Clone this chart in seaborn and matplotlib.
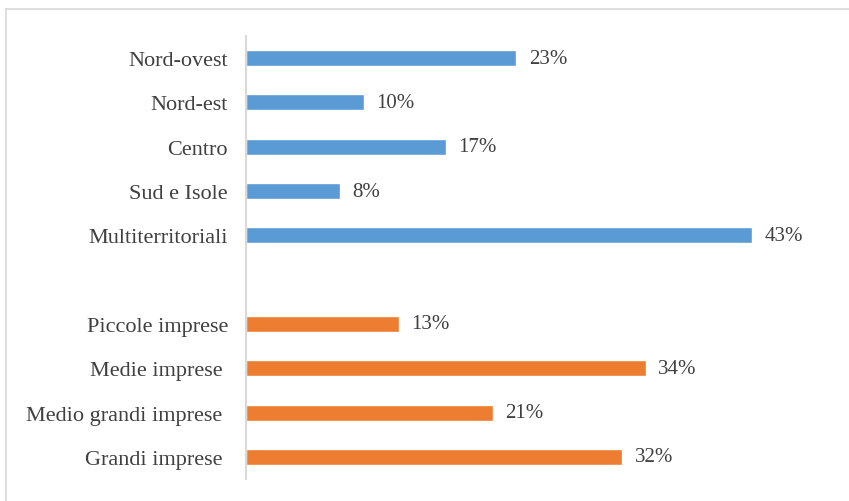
import matplotlib
matplotlib.use("Agg")
import matplotlib.pyplot as plt
from matplotlib.lines import Line2D
import seaborn as sns
import pandas as pd

regions = ["Nord-ovest", "Nord-est", "Centro", "Sud e Isole", "Multiterritoriali"]
region_values = [23, 10, 17, 8, 43]
sizes = ["Piccole imprese", "Medie imprese ", "Medio grandi imprese ", "Grandi imprese "]
size_values = [13, 34, 21, 32]
groups = ["Area", "Dimensione"]
colors = ["#5B9BD5", "#ED7D31"]

df = pd.DataFrame({
    "cat": regions + sizes,
    "val": region_values + size_values,
    "grp": [groups[0]] * len(regions) + [groups[1]] * len(sizes),
})
order = regions + [" "] + sizes

sns.set_style("white")
plt.rcParams["font.family"] = ["Liberation Serif", "DejaVu Serif"]

W, H = 849, 502
fig = plt.figure(figsize=(W / 100, H / 100), dpi=100)
ax = fig.add_axes([246 / W, 1 - 480 / H, 588 / W, 443 / H])

sns.barplot(data=df, y="cat", x="val", hue="grp", order=order,
            palette=dict(zip(groups, colors)), dodge=False, width=0.36,
            saturation=1, legend=False, ax=ax, orient="h")

ax.set_xlim(0, 50)
ax.set_ylim(len(order) - 0.5, -0.5)
ax.set_xlabel("")
ax.set_ylabel("")
ax.set_xticks([])
for s in ["top", "right", "bottom"]:
    ax.spines[s].set_visible(False)
ax.spines["left"].set_color("#d9d9d9")
ax.spines["left"].set_linewidth(1.5)
ax.tick_params(axis="y", length=0, pad=13, labelsize=16, labelcolor="#404040")

for cont in ax.containers:
    ax.bar_label(cont, labels=[f"{v:.0f}%" for v in cont.datavalues], padding=9,
                 fontsize=15, color="#404040")

bc = "#d9d9d9"
fig.add_artist(Line2D([6 / W, 1], [1 - 10 / H, 1 - 10 / H], color=bc, lw=1.2, transform=fig.transFigure))
fig.add_artist(Line2D([6 / W, 6 / W], [0, 1 - 10 / H], color=bc, lw=1.2, transform=fig.transFigure))

fig.savefig("out.png", dpi=100)
